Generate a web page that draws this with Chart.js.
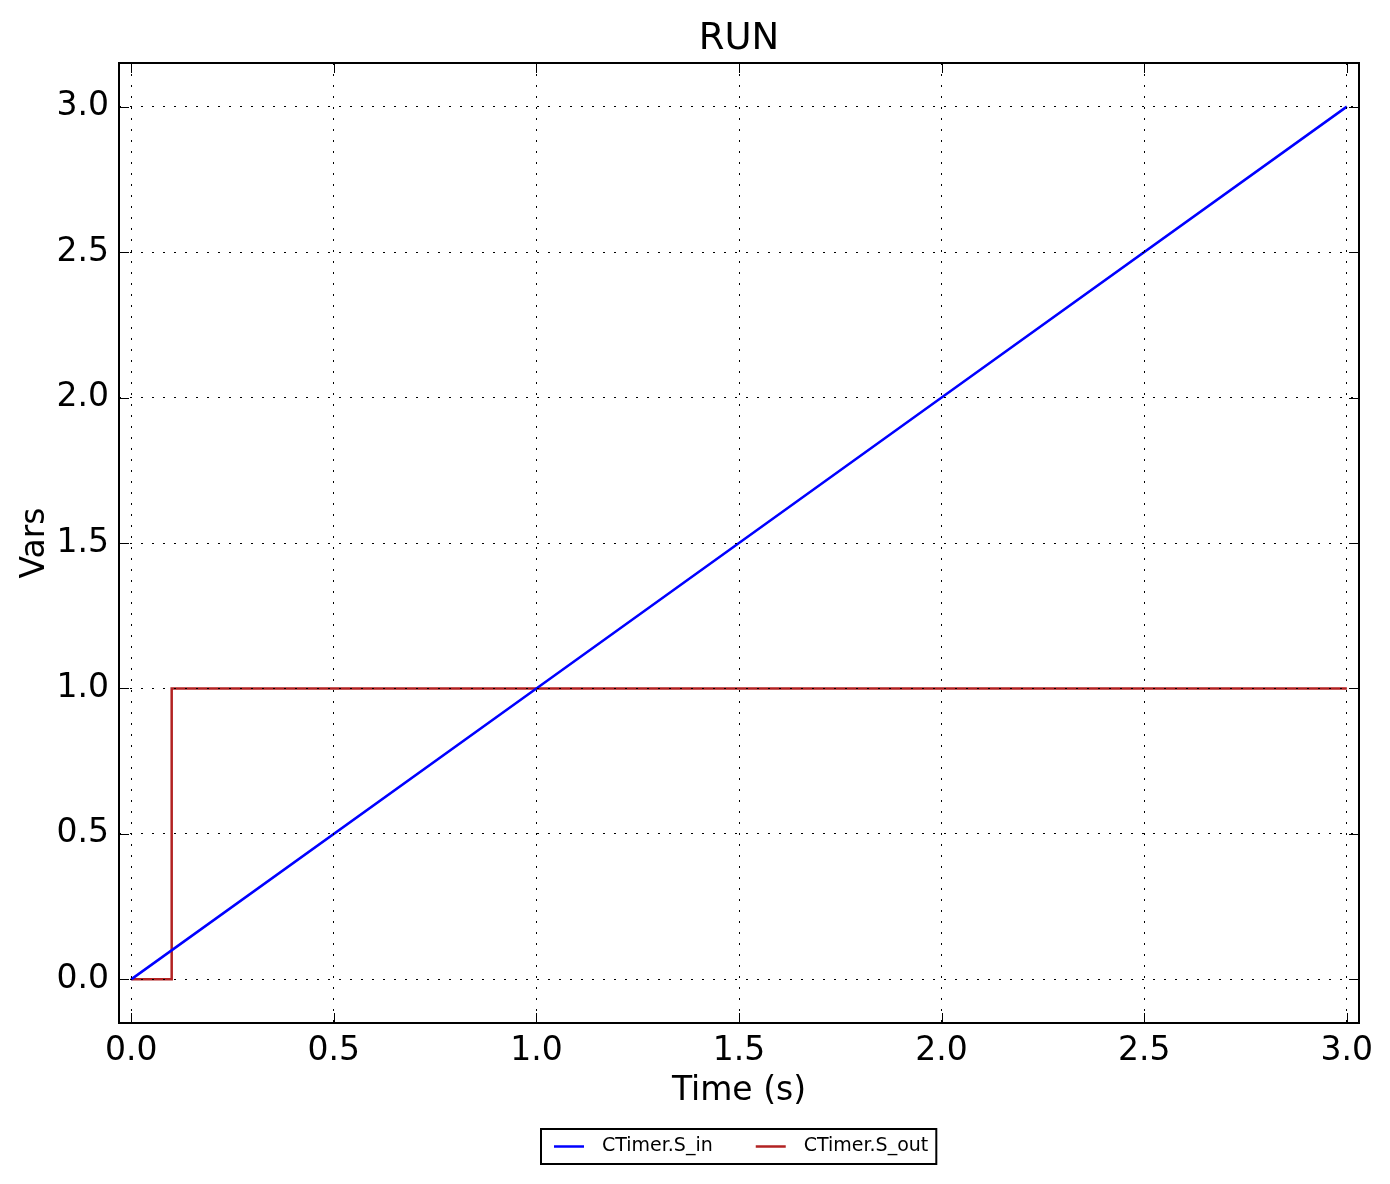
<!DOCTYPE html>
<html>
<head>
<meta charset="utf-8">
<script src="https://cdn.jsdelivr.net/npm/chart.js@4.4.1/dist/chart.umd.min.js"></script>
<style>
html,body{margin:0;padding:0;background:#fff;}
#wrap{width:1390px;height:1184px;}
</style>
</head>
<body>
<div id="wrap"><canvas id="c" width="1390" height="1184"></canvas></div>
<script>
// ---- data ----
const titleText = 'RUN';
const xLabel = 'Time (s)';
const yLabel = 'Vars';
const seriesNames = ['CTimer.S_in', 'CTimer.S_out'];
const sInTime = [0.0, 1.0, 2.0, 3.0];
const sInValues = [0.0, 1.0, 2.0, 3.0];
const sOutTime = [0.0, 0.1, 3.0];
const sOutValues = [0.0, 1.0, 1.0];
const xTicks = [0.0, 0.5, 1.0, 1.5, 2.0, 2.5, 3.0];
const yTicks = [0.0, 0.5, 1.0, 1.5, 2.0, 2.5, 3.0];
const xRange = [-0.03, 3.03];
const yRange = [-0.15, 3.15];

const FONT = "'DejaVu Sans', sans-serif";

const framePlugin = {
  id: 'frameTicks',
  afterDraw(chart) {
    const ctx = chart.ctx;
    const a = chart.chartArea;
    const xs = chart.scales.x, ys = chart.scales.y;
    const L = 10;
    ctx.save();
    ctx.strokeStyle = '#000';
    ctx.lineWidth = 1;
    ctx.beginPath();
    xTicks.forEach(v => {
      const px = Math.round(xs.getPixelForValue(v)) + 0.5;
      ctx.moveTo(px, a.bottom); ctx.lineTo(px, a.bottom - L);
      ctx.moveTo(px, a.top); ctx.lineTo(px, a.top + L);
    });
    yTicks.forEach(v => {
      const py = Math.round(ys.getPixelForValue(v)) + 0.5;
      ctx.moveTo(a.left, py); ctx.lineTo(a.left + L, py);
      ctx.moveTo(a.right, py); ctx.lineTo(a.right - L, py);
    });
    ctx.stroke();
    ctx.lineWidth = 2;
    ctx.strokeRect(a.left, a.top, a.right - a.left, a.bottom - a.top);

    // title
    ctx.fillStyle = '#000';
    ctx.font = '37px ' + FONT;
    ctx.textAlign = 'center';
    ctx.textBaseline = 'middle';
    ctx.fillText(titleText, (a.left + a.right) / 2, 39);

    // legend
    ctx.font = '19px ' + FONT;
    const ds = chart.data.datasets;
    const padL = 13, lineW = 30, gapT = 18, gapItem = 43, padR = 8;
    let total = padL;
    const widths = ds.map(d => ctx.measureText(d.label).width);
    widths.forEach((w, i) => { total += lineW + gapT + w + (i < widths.length - 1 ? gapItem : 0); });
    total += padR;
    const cx = (a.left + a.right) / 2;
    const bx = Math.round(cx - total / 2);
    const by = 1129, bh = 35;
    ctx.lineWidth = 2;
    ctx.strokeStyle = '#000';
    ctx.strokeRect(bx, by, total, bh);
    let x = bx + padL;
    const cy = by + bh / 2;
    ds.forEach((d, i) => {
      ctx.strokeStyle = d.borderColor;
      ctx.lineWidth = 2.5;
      ctx.beginPath();
      ctx.moveTo(x, cy); ctx.lineTo(x + lineW, cy);
      ctx.stroke();
      x += lineW + gapT;
      ctx.fillStyle = '#000';
      ctx.textBaseline = 'middle';
      ctx.textAlign = 'left';
      ctx.fillText(d.label, x, cy);
      x += widths[i] + gapItem;
    });
    ctx.restore();
  }
};

const chart = new Chart(document.getElementById('c'), {
  type: 'line',
  data: {
    datasets: [
      {
        label: seriesNames[0],
        data: sInTime.map((t, i) => ({x: t, y: sInValues[i]})),
        borderColor: '#0000ff',
        borderWidth: 2.5,
        pointRadius: 0,
        fill: false,
        tension: 0
      },
      {
        label: seriesNames[1],
        data: sOutTime.map((t, i) => ({x: t, y: sOutValues[i]})),
        borderColor: '#b22222',
        borderWidth: 2.5,
        pointRadius: 0,
        fill: false,
        stepped: 'before'
      }
    ]
  },
  plugins: [framePlugin],
  options: {
    responsive: false,
    animation: false,
    devicePixelRatio: 1,
    layout: { padding: { left: 0, right: 31, top: 63, bottom: 70 } },
    plugins: {
      legend: { display: false },
      tooltip: { enabled: false },
      title: { display: false }
    },
    scales: {
      x: {
        type: 'linear',
        min: xRange[0],
        max: xRange[1],
        afterFit(s) { s.height = 91; },
        afterBuildTicks(s) { s.ticks = xTicks.map(v => ({value: v})); },
        ticks: {
          includeBounds: false,
          autoSkip: false,
          maxRotation: 0,
          color: '#000',
          padding: 9,
          font: { family: FONT, size: 33 },
          callback: v => Number(v).toFixed(1)
        },
        grid: { color: '#000', lineWidth: 1, drawTicks: false, z: 1 },
        border: { display: false, dash: [2, 9] },
        title: {
          display: true, text: xLabel, color: '#000',
          font: { family: FONT, size: 33 },
          padding: { top: 0, bottom: 3 }
        }
      },
      y: {
        type: 'linear',
        min: yRange[0],
        max: yRange[1],
        afterFit(s) { s.width = 119; },
        afterBuildTicks(s) { s.ticks = yTicks.map(v => ({value: v})); },
        ticks: {
          includeBounds: false,
          autoSkip: false,
          color: '#000',
          padding: 10,
          font: { family: FONT, size: 33 },
          callback: v => Number(v).toFixed(1)
        },
        grid: { color: '#000', lineWidth: 1, drawTicks: false, z: 1 },
        border: { display: false, dash: [2, 9] },
        title: {
          display: true, text: yLabel, color: '#000',
          font: { family: FONT, size: 33 },
          padding: { top: 16, bottom: 0 }
        }
      }
    }
  }
});
</script>
</body>
</html>
